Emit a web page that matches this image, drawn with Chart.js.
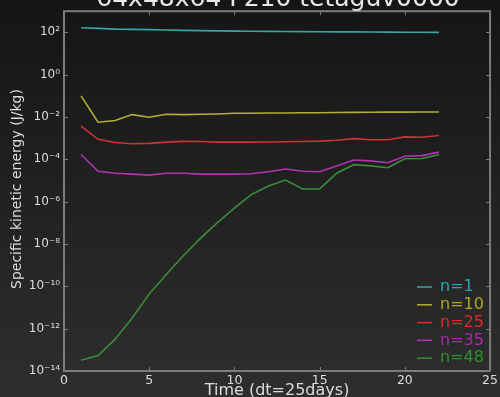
<!DOCTYPE html>
<html>
<head>
<meta charset="utf-8">
<script src="https://cdn.jsdelivr.net/npm/chart.js@4/dist/chart.umd.min.js"></script>
<style>
  html, body { margin: 0; padding: 0; background: #1e1e1e; }
  #keChart { display: block; background: linear-gradient(#151515, #2e2e2e); }
</style>
</head>
<body>
<canvas id="keChart" width="500" height="397"></canvas>
<script>
// time steps (dt = 25 days)
const steps = [1, 2, 3, 4, 5, 6, 7, 8, 9, 10, 11, 12, 13, 14, 15, 16, 17, 18, 19, 20, 21, 22];

// specific kinetic energy per mode
const n1 = [165, 154, 142, 138, 134, 129, 124, 121, 118, 115, 113, 111, 109, 108, 107, 106, 105, 104, 103, 102, 101, 100];
const n10 = [0.1, 0.0057, 0.0068, 0.013, 0.0098, 0.0135, 0.013, 0.0135, 0.014, 0.015, 0.015, 0.0155, 0.0155, 0.016, 0.016, 0.0163, 0.0165, 0.0167, 0.017, 0.017, 0.0172, 0.0174];
const n25 = [0.0037, 8.9e-4, 6.3e-4, 5.5e-4, 5.7e-4, 6.5e-4, 7.1e-4, 7.0e-4, 6.5e-4, 6.5e-4, 6.5e-4, 6.6e-4, 6.8e-4, 7.0e-4, 7.3e-4, 8.0e-4, 9.5e-4, 8.5e-4, 8.5e-4, 1.15e-3, 1.1e-3, 1.35e-3];
const n35 = [1.7e-4, 2.75e-5, 2.2e-5, 2.0e-5, 1.8e-5, 2.2e-5, 2.2e-5, 2.0e-5, 2.0e-5, 2.0e-5, 2.1e-5, 2.6e-5, 3.5e-5, 2.75e-5, 2.6e-5, 4.9e-5, 9.3e-5, 8.5e-5, 6.9e-5, 1.4e-4, 1.5e-4, 2.2e-4];
const n48 = [3.2e-14, 5.4e-14, 3.2e-13, 3.2e-12, 4.3e-11, 3.6e-10, 2.8e-9, 1.85e-8, 1.03e-7, 5e-7, 2.2e-6, 5.5e-6, 1.05e-5, 4e-6, 4e-6, 2.2e-5, 5.6e-5, 4.9e-5, 4e-5, 1.07e-4, 1.1e-4, 1.66e-4];

const seriesLabels = ['n=1', 'n=10', 'n=25', 'n=35', 'n=48'];
const seriesData = [n1, n10, n25, n35, n48];
const lineColors = ['#3aa4a4', '#b0b034', '#cc3434', '#b034b0', '#3a8c3a'];
const textColors = ['#22aaaa', '#aaaa22', '#e02a2a', '#aa2aaa', '#2e922e'];

// y tick labels (powers of ten)
const yTickExps = [-14, -12, -10, -8, -6, -4, -2, 0, 2];
const xTicks = [0, 5, 10, 15, 20, 25];

const titleText = '64x48x64 F210 tetaguv0000';
const xTitle = 'Time (dt=25days)';
const yTitle = 'Specific kinetic energy (J/kg)';

const sup = { '-': '\u207B', '0': '\u2070', '1': '\u00B9', '2': '\u00B2', '3': '\u00B3', '4': '\u2074',
  '5': '\u2075', '6': '\u2076', '7': '\u2077', '8': '\u2078', '9': '\u2079' };
const powLabel = e => '10' + String(e).split('').map(c => sup[c]).join('');

const FONT = 'DejaVu Sans';
const fg = '#dcdcdc';

const decorations = {
  id: 'decorations',
  afterDraw(chart) {
    const { ctx, chartArea: a, scales } = chart;
    ctx.save();
    // frame
    ctx.strokeStyle = '#7c7c7c';
    ctx.lineWidth = 2;
    ctx.strokeRect(a.left, a.top, a.right - a.left, a.bottom - a.top);
    // inward tick marks
    ctx.lineWidth = 1;
    ctx.beginPath();
    xTicks.forEach(v => {
      const x = Math.round(scales.x.getPixelForValue(v)) + 0.5;
      ctx.moveTo(x, a.bottom); ctx.lineTo(x, a.bottom - 4);
      ctx.moveTo(x, a.top); ctx.lineTo(x, a.top + 4);
    });
    yTickExps.forEach(e => {
      const y = Math.round(scales.y.getPixelForValue(Math.pow(10, e))) + 0.5;
      ctx.moveTo(a.left, y); ctx.lineTo(a.left + 4, y);
      ctx.moveTo(a.right, y); ctx.lineTo(a.right - 4, y);
    });
    ctx.stroke();

    // title, cut off by the top edge
    ctx.fillStyle = '#e8e8e8';
    ctx.font = '25px ' + FONT;
    ctx.textAlign = 'center';
    ctx.textBaseline = 'alphabetic';
    ctx.fillText(titleText, 278, 6);

    // axis titles
    ctx.fillStyle = fg;
    ctx.font = '16px ' + FONT;
    ctx.textBaseline = 'middle';
    ctx.fillText(xTitle, (a.left + a.right) / 2, 391);
    ctx.save();
    ctx.translate(17, 189);
    ctx.rotate(-Math.PI / 2);
    ctx.font = '14px ' + FONT;
    ctx.fillText(yTitle, 0, 0);
    ctx.restore();

    // legend, lower right inside the axes
    ctx.font = '16px ' + FONT;
    ctx.textAlign = 'left';
    seriesLabels.forEach((lab, i) => {
      const y = 287 + i * 17.8;
      ctx.strokeStyle = lineColors[i];
      ctx.lineWidth = 1.5;
      ctx.beginPath();
      ctx.moveTo(417, y); ctx.lineTo(432, y);
      ctx.stroke();
      ctx.fillStyle = textColors[i];
      ctx.fillText(lab, 440, y);
    });
    ctx.restore();
  }
};

new Chart(document.getElementById('keChart'), {
  type: 'line',
  data: {
    labels: steps,
    datasets: seriesLabels.map((lab, i) => ({
      label: lab,
      data: steps.map((s, j) => ({ x: s, y: seriesData[i][j] })),
      borderColor: lineColors[i],
      borderWidth: 1.6,
      pointRadius: 0,
      tension: 0,
      fill: false
    }))
  },
  options: {
    responsive: false,
    animation: false,
    layout: { padding: { top: 6, right: 7, left: 0, bottom: 0 } },
    plugins: { legend: { display: false }, title: { display: false }, tooltip: { enabled: false } },
    scales: {
      x: {
        type: 'linear',
        min: 0,
        max: 25,
        afterBuildTicks: s => { s.ticks = xTicks.map(v => ({ value: v })); },
        afterFit: s => { s.height = 26; },
        grid: { display: false, drawTicks: false },
        border: { display: false },
        ticks: { color: fg, font: { family: FONT, size: 12.5 }, padding: 2, maxRotation: 0, autoSkip: false }
      },
      y: {
        type: 'logarithmic',
        min: 1e-14,
        max: 1e3,
        afterBuildTicks: s => { s.ticks = yTickExps.map(e => ({ value: Math.pow(10, e) })); },
        afterFit: s => { s.width = 64; },
        grid: { display: false, drawTicks: false },
        border: { display: false },
        ticks: {
          color: fg,
          font: { family: FONT, size: 12 },
          padding: 4,
          autoSkip: false,
          callback: v => powLabel(Math.round(Math.log10(v)))
        }
      }
    }
  },
  plugins: [decorations]
});
</script>
</body>
</html>
